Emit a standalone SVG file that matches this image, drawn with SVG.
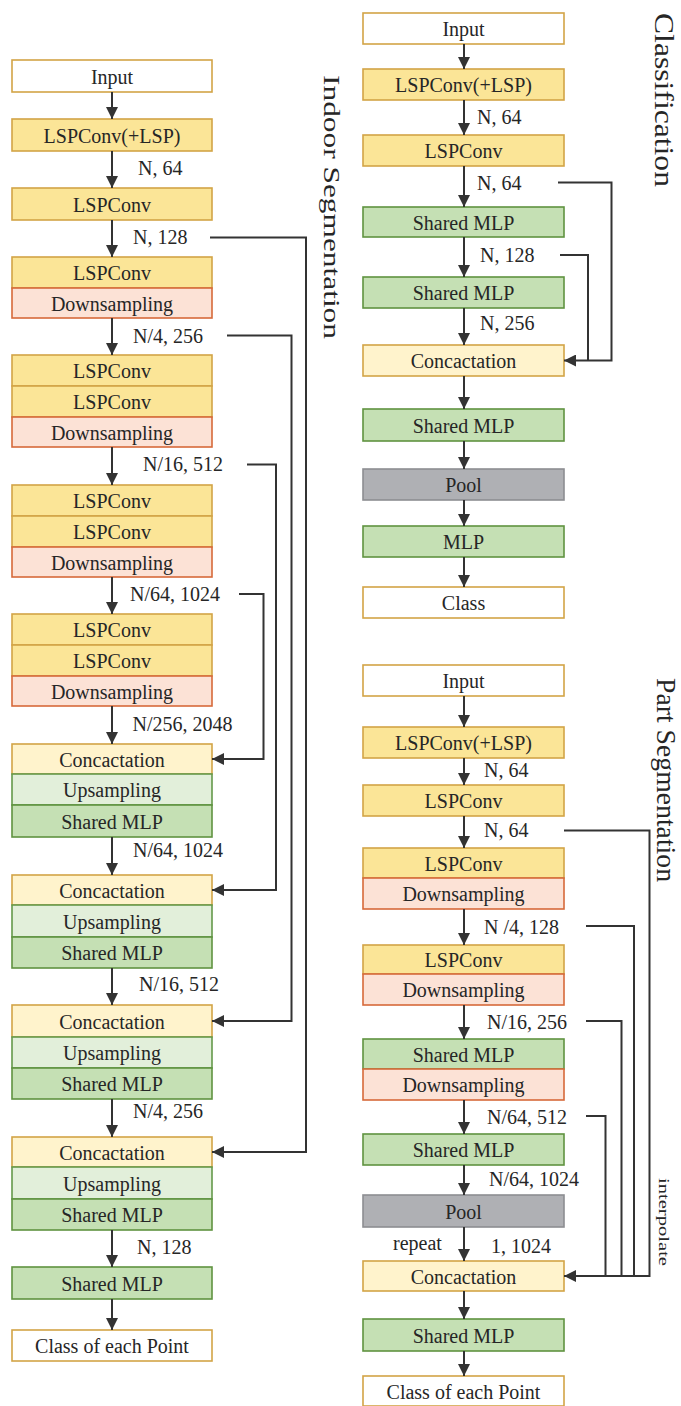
<svg xmlns="http://www.w3.org/2000/svg" width="681" height="1406" viewBox="0 0 681 1406">
<style>
.t{font-family:"Liberation Serif","Times New Roman",serif;font-size:20px;fill:#262626;text-anchor:middle}
.l{font-family:"Liberation Serif","Times New Roman",serif;font-size:20px;fill:#262626}
.v{font-family:"Liberation Serif","Times New Roman",serif;fill:#262626}
.io{fill:#ffffff;stroke:#d3a446;stroke-width:1.6}
.lsp{fill:#fbe597;stroke:#d3a446;stroke-width:1.6}
.ds{fill:#fce2d6;stroke:#d66a3a;stroke-width:1.6}
.cat{fill:#fff3cc;stroke:#d3a446;stroke-width:1.6}
.up{fill:#e2efda;stroke:#65994a;stroke-width:1.6}
.mlp{fill:#c5e0b4;stroke:#5f9340;stroke-width:1.6}
.pool{fill:#afb0b4;stroke:#8d8e92;stroke-width:1.6}
.c{fill:none;stroke:#333333;stroke-width:2}
</style>
<defs>
<marker id="ah" viewBox="0 0 12 12" refX="12" refY="6" markerWidth="12" markerHeight="12" markerUnits="userSpaceOnUse" orient="auto">
<path d="M0,0 L12,6 L0,12 z" fill="#333333"/>
</marker>
</defs>

<!-- Titles -->
<text class="v" font-size="24" transform="translate(324,75) rotate(90)" textLength="264" lengthAdjust="spacingAndGlyphs">Indoor Segmentation</text>
<text class="v" font-size="27" transform="translate(655,13) rotate(90)" textLength="174" lengthAdjust="spacingAndGlyphs">Classification</text>
<text class="v" font-size="27" transform="translate(657,678) rotate(90)" textLength="204" lengthAdjust="spacingAndGlyphs">Part Segmentation</text>
<text class="v" font-size="14" transform="translate(659,1178) rotate(90)" textLength="88" lengthAdjust="spacingAndGlyphs">interpolate</text>

<!-- ========== Indoor Segmentation nodes ========== -->
<g id="is-input"><rect class="io" x="12" y="60" width="200" height="32"/><text class="t" x="112" y="83.5">Input</text></g>
<g id="is-lsp0"><rect class="lsp" x="12" y="119" width="200" height="32"/><text class="t" x="112" y="142.5">LSPConv(+LSP)</text></g>
<g id="is-lsp1"><rect class="lsp" x="12" y="188" width="200" height="32"/><text class="t" x="112" y="211.5">LSPConv</text></g>
<g id="is-blockA">
<rect class="lsp" x="12" y="257" width="200" height="31"/><text class="t" x="112" y="280">LSPConv</text>
<rect class="ds" x="12" y="288" width="200" height="30"/><text class="t" x="112" y="310.5">Downsampling</text>
</g>
<g id="is-blockB">
<rect class="lsp" x="12" y="355" width="200" height="31"/><text class="t" x="112" y="378">LSPConv</text>
<rect class="lsp" x="12" y="386" width="200" height="31"/><text class="t" x="112" y="409">LSPConv</text>
<rect class="ds" x="12" y="417" width="200" height="30"/><text class="t" x="112" y="439.5">Downsampling</text>
</g>
<g id="is-blockC">
<rect class="lsp" x="12" y="485" width="200" height="31"/><text class="t" x="112" y="508">LSPConv</text>
<rect class="lsp" x="12" y="516" width="200" height="31"/><text class="t" x="112" y="539">LSPConv</text>
<rect class="ds" x="12" y="547" width="200" height="30"/><text class="t" x="112" y="569.5">Downsampling</text>
</g>
<g id="is-blockD">
<rect class="lsp" x="12" y="614" width="200" height="31"/><text class="t" x="112" y="637">LSPConv</text>
<rect class="lsp" x="12" y="645" width="200" height="31"/><text class="t" x="112" y="668">LSPConv</text>
<rect class="ds" x="12" y="676" width="200" height="30"/><text class="t" x="112" y="698.5">Downsampling</text>
</g>
<g id="is-cat1">
<rect class="cat" x="12" y="744" width="200" height="30"/><text class="t" x="112" y="766.5">Concactation</text>
<rect class="up" x="12" y="774" width="200" height="31"/><text class="t" x="112" y="797">Upsampling</text>
<rect class="mlp" x="12" y="805" width="200" height="32"/><text class="t" x="112" y="828.5">Shared MLP</text>
</g>
<g id="is-cat2">
<rect class="cat" x="12" y="875" width="200" height="30"/><text class="t" x="112" y="897.5">Concactation</text>
<rect class="up" x="12" y="905" width="200" height="32"/><text class="t" x="112" y="928.5">Upsampling</text>
<rect class="mlp" x="12" y="937" width="200" height="31"/><text class="t" x="112" y="960">Shared MLP</text>
</g>
<g id="is-cat3">
<rect class="cat" x="12" y="1005" width="200" height="32"/><text class="t" x="112" y="1028.5">Concactation</text>
<rect class="up" x="12" y="1037" width="200" height="31"/><text class="t" x="112" y="1060">Upsampling</text>
<rect class="mlp" x="12" y="1068" width="200" height="31"/><text class="t" x="112" y="1091">Shared MLP</text>
</g>
<g id="is-cat4">
<rect class="cat" x="12" y="1137" width="200" height="30"/><text class="t" x="112" y="1159.5">Concactation</text>
<rect class="up" x="12" y="1167" width="200" height="32"/><text class="t" x="112" y="1190.5">Upsampling</text>
<rect class="mlp" x="12" y="1199" width="200" height="31"/><text class="t" x="112" y="1222">Shared MLP</text>
</g>
<g id="is-mlp"><rect class="mlp" x="12" y="1267" width="200" height="32"/><text class="t" x="112" y="1290.5">Shared MLP</text></g>
<g id="is-out"><rect class="io" x="12" y="1330" width="200" height="31"/><text class="t" x="112" y="1353">Class of each Point</text></g>

<!-- ========== Classification nodes ========== -->
<g id="cl-input"><rect class="io" x="363" y="13" width="201" height="31"/><text class="t" x="463.5" y="36">Input</text></g>
<g id="cl-lsp0"><rect class="lsp" x="363" y="69" width="201" height="31"/><text class="t" x="463.5" y="92">LSPConv(+LSP)</text></g>
<g id="cl-lsp1"><rect class="lsp" x="363" y="135" width="201" height="31"/><text class="t" x="463.5" y="158">LSPConv</text></g>
<g id="cl-mlp1"><rect class="mlp" x="363" y="207" width="201" height="30"/><text class="t" x="463.5" y="229.5">Shared MLP</text></g>
<g id="cl-mlp2"><rect class="mlp" x="363" y="277" width="201" height="31"/><text class="t" x="463.5" y="300">Shared MLP</text></g>
<g id="cl-cat"><rect class="cat" x="363" y="345" width="201" height="31"/><text class="t" x="463.5" y="368">Concactation</text></g>
<g id="cl-mlp3"><rect class="mlp" x="363" y="409" width="201" height="32"/><text class="t" x="463.5" y="432.5">Shared MLP</text></g>
<g id="cl-pool"><rect class="pool" x="363" y="469" width="201" height="31"/><text class="t" x="463.5" y="492">Pool</text></g>
<g id="cl-mlp4"><rect class="mlp" x="363" y="526" width="201" height="31"/><text class="t" x="463.5" y="549">MLP</text></g>
<g id="cl-out"><rect class="io" x="363" y="587" width="201" height="31"/><text class="t" x="463.5" y="610">Class</text></g>

<!-- ========== Part Segmentation nodes ========== -->
<g id="ps-input"><rect class="io" x="363" y="665" width="201" height="31"/><text class="t" x="463.5" y="688">Input</text></g>
<g id="ps-lsp0"><rect class="lsp" x="363" y="727" width="201" height="31"/><text class="t" x="463.5" y="750">LSPConv(+LSP)</text></g>
<g id="ps-lsp1"><rect class="lsp" x="363" y="785" width="201" height="31"/><text class="t" x="463.5" y="808">LSPConv</text></g>
<g id="ps-blockA">
<rect class="lsp" x="363" y="848" width="201" height="30"/><text class="t" x="463.5" y="870.5">LSPConv</text>
<rect class="ds" x="363" y="878" width="201" height="31"/><text class="t" x="463.5" y="901">Downsampling</text>
</g>
<g id="ps-blockB">
<rect class="lsp" x="363" y="945" width="201" height="29"/><text class="t" x="463.5" y="967">LSPConv</text>
<rect class="ds" x="363" y="974" width="201" height="31"/><text class="t" x="463.5" y="997">Downsampling</text>
</g>
<g id="ps-blockC">
<rect class="mlp" x="363" y="1039" width="201" height="30"/><text class="t" x="463.5" y="1061.5">Shared MLP</text>
<rect class="ds" x="363" y="1069" width="201" height="31"/><text class="t" x="463.5" y="1092">Downsampling</text>
</g>
<g id="ps-mlp1"><rect class="mlp" x="363" y="1134" width="201" height="31"/><text class="t" x="463.5" y="1157">Shared MLP</text></g>
<g id="ps-pool"><rect class="pool" x="363" y="1195" width="201" height="32"/><text class="t" x="463.5" y="1218.5">Pool</text></g>
<g id="ps-cat"><rect class="cat" x="363" y="1261" width="201" height="30"/><text class="t" x="463.5" y="1283.5">Concactation</text></g>
<g id="ps-mlp2"><rect class="mlp" x="363" y="1319" width="201" height="32"/><text class="t" x="463.5" y="1342.5">Shared MLP</text></g>
<g id="ps-out"><rect class="io" x="363" y="1376" width="201" height="30"/><text class="t" x="463.5" y="1398.5">Class of each Point</text></g>

<!-- ========== Connectors ========== -->
<g id="connectors">
<!-- Indoor main flow -->
<line class="c" x1="112" y1="92" x2="112" y2="119" marker-end="url(#ah)"/>
<line class="c" x1="112" y1="151" x2="112" y2="188" marker-end="url(#ah)"/>
<line class="c" x1="112" y1="220" x2="112" y2="257" marker-end="url(#ah)"/>
<line class="c" x1="112" y1="318" x2="112" y2="355" marker-end="url(#ah)"/>
<line class="c" x1="112" y1="447" x2="112" y2="485" marker-end="url(#ah)"/>
<line class="c" x1="112" y1="577" x2="112" y2="614" marker-end="url(#ah)"/>
<line class="c" x1="112" y1="706" x2="112" y2="744" marker-end="url(#ah)"/>
<line class="c" x1="112" y1="837" x2="112" y2="875" marker-end="url(#ah)"/>
<line class="c" x1="112" y1="968" x2="112" y2="1005" marker-end="url(#ah)"/>
<line class="c" x1="112" y1="1099" x2="112" y2="1137" marker-end="url(#ah)"/>
<line class="c" x1="112" y1="1230" x2="112" y2="1267" marker-end="url(#ah)"/>
<line class="c" x1="112" y1="1299" x2="112" y2="1330" marker-end="url(#ah)"/>
<!-- Indoor skips -->
<polyline class="c" points="210,237.5 306,237.5 306,1152 212,1152" marker-end="url(#ah)"/>
<polyline class="c" points="227,335.5 291.5,335.5 291.5,1021 212,1021" marker-end="url(#ah)"/>
<polyline class="c" points="247,464.5 276,464.5 276,890 212,890" marker-end="url(#ah)"/>
<polyline class="c" points="239,594 263.5,594 263.5,759 212,759" marker-end="url(#ah)"/>
<!-- Indoor labels -->
<text class="l" x="138" y="175">N, 64</text>
<text class="l" x="133" y="244">N, 128</text>
<text class="l" x="133" y="342.5">N/4, 256</text>
<text class="l" x="143" y="471">N/16, 512</text>
<text class="l" x="130" y="600.5">N/64, 1024</text>
<text class="l" x="132.5" y="730.5">N/256, 2048</text>
<text class="l" x="133" y="856.5">N/64, 1024</text>
<text class="l" x="139" y="990.5">N/16, 512</text>
<text class="l" x="133" y="1118">N/4, 256</text>
<text class="l" x="137" y="1254">N, 128</text>

<!-- Classification flow -->
<line class="c" x1="464" y1="44" x2="464" y2="69" marker-end="url(#ah)"/>
<line class="c" x1="464" y1="100" x2="464" y2="135" marker-end="url(#ah)"/>
<line class="c" x1="464" y1="166" x2="464" y2="207" marker-end="url(#ah)"/>
<line class="c" x1="464" y1="237" x2="464" y2="277" marker-end="url(#ah)"/>
<line class="c" x1="464" y1="308" x2="464" y2="345" marker-end="url(#ah)"/>
<line class="c" x1="464" y1="376" x2="464" y2="409" marker-end="url(#ah)"/>
<line class="c" x1="464" y1="441" x2="464" y2="469" marker-end="url(#ah)"/>
<line class="c" x1="464" y1="500" x2="464" y2="526" marker-end="url(#ah)"/>
<line class="c" x1="464" y1="557" x2="464" y2="587" marker-end="url(#ah)"/>
<polyline class="c" points="558,182.5 611.5,182.5 611.5,360.5 564,360.5" marker-end="url(#ah)"/>
<polyline class="c" points="560,255 588,255 588,360.5"/>
<text class="l" x="477" y="124">N, 64</text>
<text class="l" x="477" y="190">N, 64</text>
<text class="l" x="480" y="262">N, 128</text>
<text class="l" x="480" y="330">N, 256</text>

<!-- Part Segmentation flow -->
<line class="c" x1="464" y1="696" x2="464" y2="727" marker-end="url(#ah)"/>
<line class="c" x1="464" y1="758" x2="464" y2="785" marker-end="url(#ah)"/>
<line class="c" x1="464" y1="816" x2="464" y2="848" marker-end="url(#ah)"/>
<line class="c" x1="464" y1="909" x2="464" y2="945" marker-end="url(#ah)"/>
<line class="c" x1="464" y1="1005" x2="464" y2="1039" marker-end="url(#ah)"/>
<line class="c" x1="464" y1="1100" x2="464" y2="1134" marker-end="url(#ah)"/>
<line class="c" x1="464" y1="1165" x2="464" y2="1195" marker-end="url(#ah)"/>
<line class="c" x1="464" y1="1227" x2="464" y2="1261" marker-end="url(#ah)"/>
<line class="c" x1="464" y1="1291" x2="464" y2="1319" marker-end="url(#ah)"/>
<line class="c" x1="464" y1="1351" x2="464" y2="1376" marker-end="url(#ah)"/>
<polyline class="c" points="564,830.5 649.5,830.5 649.5,1276 564,1276" marker-end="url(#ah)"/>
<polyline class="c" points="586,926 634,926 634,1276"/>
<polyline class="c" points="586,1021 621.5,1021 621.5,1276"/>
<polyline class="c" points="586,1116 605.5,1116 605.5,1276"/>
<text class="l" x="484" y="777">N, 64</text>
<text class="l" x="484" y="837">N, 64</text>
<text class="l" x="484" y="934">N /4, 128</text>
<text class="l" x="487" y="1029">N/16, 256</text>
<text class="l" x="487" y="1124">N/64, 512</text>
<text class="l" x="489" y="1186">N/64, 1024</text>
<text class="l" x="393" y="1250">repeat</text>
<text class="l" x="491" y="1253">1, 1024</text>
</g>
</svg>
